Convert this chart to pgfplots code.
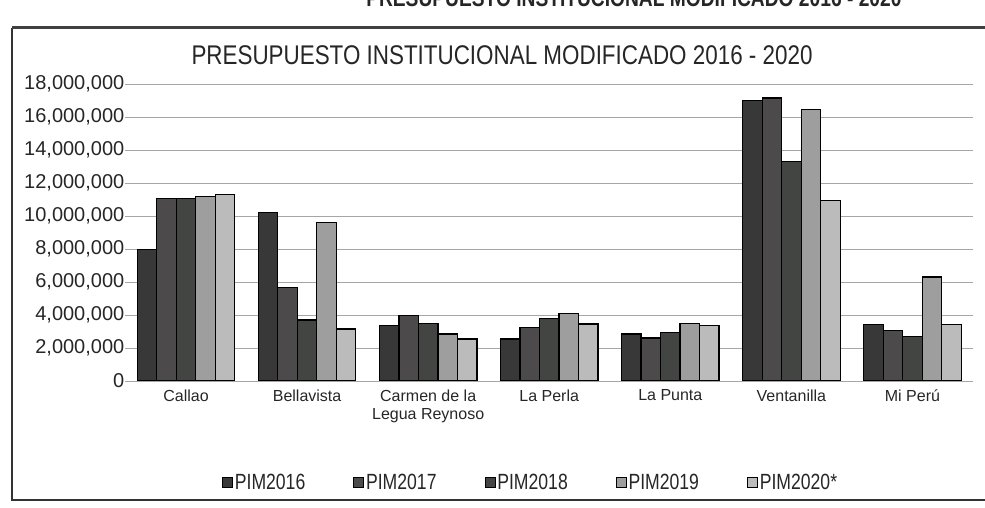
\documentclass[border=0pt]{standalone}
\usepackage{fontspec}
\setmainfont{Liberation Sans}
\newfontfamily\narrow[FakeStretch=0.8]{Liberation Sans}
\newfontfamily\titlefont[FakeStretch=0.83]{Liberation Sans}
\usepackage{pgfplots}
\pgfplotsset{compat=1.18}
\definecolor{c16}{HTML}{383838}
\definecolor{c17}{HTML}{4C4A4A}
\definecolor{c18}{HTML}{434543}
\definecolor{c19}{HTML}{9E9E9E}
\definecolor{c20}{HTML}{BBBBBB}
\begin{document}
\begin{tikzpicture}[x=1pt,y=1pt]
\useasboundingbox (0,0) rectangle (985,508);
\node[anchor=east, font=\narrow\bfseries\fontsize{24}{24}\selectfont, text=black!85] at (905,510) {PRESUPUESTO INSTITUCIONAL MODIFICADO 2016 - 2020};
\draw[line width=1.5pt, black!80] (12,480) -- (12,8) -- (990,8);
\draw[line width=3pt, black!75] (12,480) -- (990,480);
\node[font=\titlefont\fontsize{27}{27}\selectfont, text=black!85] at (502,453) {PRESUPUESTO INSTITUCIONAL MODIFICADO 2016 - 2020};
\begin{axis}[at={(125.5pt,127pt)}, anchor=south west, scale only axis,
  width=847.5pt, height=297pt,
  ybar=0pt, bar width=19.5pt,
  xmin=-0.5, xmax=6.5, ymin=0, ymax=18000000,
  scaled y ticks=false,
  xtick={0,1,2,3,4,5,6},
  xticklabels={Callao,Bellavista,{Carmen de la\\Legua Reynoso},La Perla,La Punta,Ventanilla,Mi Perú},
  x tick label style={font=\fontsize{16}{18}\selectfont, align=center, text=black!85, yshift=-5pt},
  ytick={0,2000000,4000000,6000000,8000000,10000000,12000000,14000000,16000000,18000000},
  yticklabels={0,{2,000,000},{4,000,000},{6,000,000},{8,000,000},{10,000,000},{12,000,000},{14,000,000},{16,000,000},{18,000,000}},
  y tick label style={font=\fontsize{20}{20}\selectfont, inner sep=1pt, text=black!85},
  axis line style={draw=none}, major tick length=0pt, tick style={draw=none},
  ymajorgrids, grid style={black!35, line width=0.8pt},
  legend columns=5,
  legend style={draw=none, fill=none, at={(0.478,-0.343)}, anchor=center,
    font=\narrow\fontsize{22}{22}\selectfont, text=black!85,
    /tikz/every even column/.append style={column sep=46pt}},
  legend image code/.code={\draw[#1, line width=0.8pt] (0pt,-5pt) rectangle (10pt,5pt);},
  every axis plot/.append style={draw=black, line width=1.2pt},
]
\addplot[fill=c16] coordinates {(0,7950000) (1,10200000) (2,3350000) (3,2550000) (4,2850000) (5,17000000) (6,3400000)};
\addplot[fill=c17] coordinates {(0,11050000) (1,5650000) (2,3950000) (3,3250000) (4,2600000) (5,17150000) (6,3050000)};
\addplot[fill=c18] coordinates {(0,11050000) (1,3700000) (2,3500000) (3,3800000) (4,2950000) (5,13300000) (6,2700000)};
\addplot[fill=c19] coordinates {(0,11200000) (1,9600000) (2,2850000) (3,4100000) (4,3500000) (5,16450000) (6,6300000)};
\addplot[fill=c20] coordinates {(0,11300000) (1,3150000) (2,2550000) (3,3450000) (4,3350000) (5,10950000) (6,3400000)};
\legend{PIM2016,PIM2017,PIM2018,PIM2019,PIM2020*}
\end{axis}
\end{tikzpicture}
\end{document}
